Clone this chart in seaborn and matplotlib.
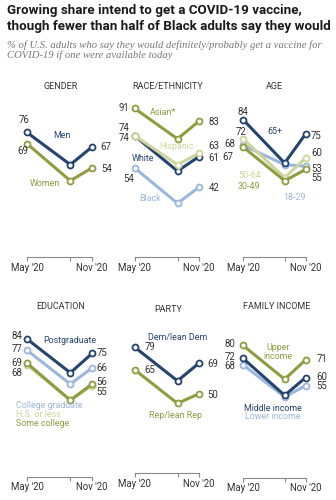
import matplotlib
matplotlib.use("Agg")
import matplotlib.pyplot as plt
from matplotlib import font_manager
import pandas as pd
import seaborn as sns

W, H, DPI = 336, 500, 100

# Survey waves: months after May 2020 (May, Sep, Nov)
months = [0, 4, 6]
tick_labels = ["May '20", "", "Nov '20"]

gender_groups = ["Women", "Men"]
gender_men = [76, 56, 67]
gender_women = [69, 46, 54]

race_groups = ["Black", "White", "Hispanic", "Asian*"]
race_asian = [91, 72, 83]
race_hispanic = [74, 56, 63]
race_white = [74, 52, 61]
race_black = [54, 32, 42]

age_groups = ["18-29", "50-64", "30-49", "65+"]
age_65_plus = [84, 57, 75]
age_50_64 = [72, 48, 60]
age_30_49 = [67, 46, 53]
age_18_29 = [68, 56, 55]

edu_groups = ["H.S. or less", "Some college", "College graduate", "Postgraduate"]
edu_postgrad = [84, 63, 75]
edu_college = [77, 56, 66]
edu_some_college = [69, 46, 56]
edu_hs = [68, 46, 55]

party_groups = ["Rep/lean Rep", "Dem/lean Dem"]
party_dem = [79, 58, 69]
party_rep = [65, 44, 50]

income_groups = ["Lower income", "Middle income", "Upper income"]
income_upper = [80, 59, 71]
income_middle = [72, 49, 60]
income_lower = [68, 48, 55]

NAVY = "#24436f"
OLIVE = "#8f9c40"
LIGHT_BLUE = "#9bb7de"
PALE = "#cdd59d"
TEXT = "#333333"
AXIS = "#8a8a8a"

VALUE_SIZE = 6.9
GROUP_SIZE = 6.4

sns.set_theme(style="white")
plt.rcParams["font.family"] = ["Roboto", "DejaVu Sans"]

installed = {f.name for f in font_manager.fontManager.ttflist}
HEAD_FONT = "Liberation Sans Narrow" if "Liberation Sans Narrow" in installed else "Roboto"

fig = plt.figure(figsize=(W / DPI, H / DPI), dpi=DPI)
fig.patch.set_facecolor("white")


def fx(x):
    return x / W


def fy(y):
    return 1 - y / H


def fit_width(txt, target_px):
    fig.canvas.draw()
    w = txt.get_window_extent(fig.canvas.get_renderer()).width
    txt.set_fontsize(txt.get_fontsize() * target_px / w)


# Headline and subtitle
t1 = fig.text(fx(7), fy(14), "Growing share intend to get a COVID-19 vaccine,",
              family=HEAD_FONT, weight="bold", fontsize=10, color="#1a1a1a", va="baseline")
t2 = fig.text(fx(7), fy(30), "though fewer than half of Black adults say they would",
              family=HEAD_FONT, weight="bold", fontsize=10, color="#1a1a1a", va="baseline")
fit_width(t2, 323)
t1.set_fontsize(t2.get_fontsize())
s1 = fig.text(fx(7), fy(47.5), "% of U.S. adults who say they would definitely/probably get a vaccine for",
              family="Liberation Serif", style="italic", fontsize=7.4, color="#777777", va="baseline")
fit_width(s1, 311)
fig.text(fx(7), fy(58.5), "COVID-19 if one were available today",
         family="Liberation Serif", style="italic", fontsize=s1.get_fontsize(),
         color="#777777", va="baseline")

# Vertical scale shared by every panel: pixels per percentage point
PX_PER_PT = 1.61
ROWS = {"top": (108.3, 91), "bottom": (339.0, 84)}


def make_panel(title, groups, series, colors, x_may, x_nov, row, axis_y,
               title_xy, group_labels, start_off, end_off):
    y_ref, v_ref = ROWS[row]
    top_px = y_ref - 30
    pad = 30
    left, right = x_may - pad, x_nov + pad
    ax = fig.add_axes([fx(left), fy(axis_y), (right - left) / W, (axis_y - top_px) / H])
    ax.patch.set_alpha(0)
    mpp = 6 / (x_nov - x_may)
    ax.set_xlim(-pad * mpp, 6 + pad * mpp)
    ax.set_ylim(v_ref - (axis_y - y_ref) / PX_PER_PT, v_ref + (y_ref - top_px) / PX_PER_PT)

    rows = []
    for g in groups:
        for m, v in zip(months, series[g]):
            rows.append({"month": m, "share": v, "group": g})
    df = pd.DataFrame(rows)
    sns.lineplot(data=df, x="month", y="share", hue="group", hue_order=groups,
                 palette=colors, marker="o", markersize=4.3, linewidth=2.2,
                 markeredgewidth=1.3, legend=False, ax=ax, errorbar=None)
    for line in ax.get_lines():
        line.set_markeredgecolor(line.get_color())
        line.set_markerfacecolor("white")
        line.set_clip_on(False)

    # Value labels at first and last wave
    for g in groups:
        vals = series[g]
        dx, dy, ha = start_off[g]
        ax.annotate(f"{vals[0]}", (months[0], vals[0]), xytext=(dx, -dy),
                    textcoords="offset pixels", ha=ha, va="center",
                    fontsize=VALUE_SIZE, color=TEXT)
        dx, dy, ha = end_off[g]
        ax.annotate(f"{vals[-1]}", (months[-1], vals[-1]), xytext=(dx, -dy),
                    textcoords="offset pixels", ha=ha, va="center",
                    fontsize=VALUE_SIZE, color=TEXT)

    # Group names
    for g, (lab, m, v, ha) in group_labels.items():
        ax.text(m, v, lab, ha=ha, va="center", fontsize=GROUP_SIZE, color=colors[g],
                linespacing=1.05)

    ax.text(title_xy[0], title_xy[1], title, ha="center", va="center",
            fontsize=6.5, color=TEXT)

    for side in ["top", "right", "left"]:
        ax.spines[side].set_visible(False)
    ax.spines["bottom"].set_bounds(0, 6)
    ax.spines["bottom"].set_color(AXIS)
    ax.spines["bottom"].set_linewidth(0.8)
    ax.set_xticks(months)
    ax.set_xticklabels(tick_labels)
    ax.set_yticks([])
    ax.tick_params(axis="x", direction="out", length=2.6, width=0.8, color=AXIS,
                   labelsize=6.9, labelcolor=TEXT, pad=1.5, bottom=True)
    ax.set_xlabel("")
    ax.set_ylabel("")
    return ax


make_panel(
    "GENDER", gender_groups,
    {"Men": gender_men, "Women": gender_women},
    {"Men": NAVY, "Women": OLIVE},
    27, 92, "top", 257.3, (3.1, 104.5),
    {"Men": ("Men", 3.23, 73.8, "center"), "Women": ("Women", 1.66, 44, "center")},
    {"Men": (-3, -12.5, "center"), "Women": (-4, 7, "center")},
    {"Men": (8, 0, "left"), "Women": (9, 1, "left")},
)

make_panel(
    "RACE/ETHNICITY", race_groups,
    {"Asian*": race_asian, "Hispanic": race_hispanic, "White": race_white, "Black": race_black},
    {"Asian*": OLIVE, "Hispanic": PALE, "White": NAVY, "Black": LIGHT_BLUE},
    134.5, 199, "top", 257.3, (3.1, 104.5),
    {"Asian*": ("Asian*", 2.65, 88.7, "center"), "Hispanic": ("Hispanic", 3.95, 67, "center"),
     "White": ("White", 0.79, 60.1, "center"), "Black": ("Black", 1.44, 34.7, "center")},
    {"Asian*": (-5, 0, "right"), "Hispanic": (-5.5, -8, "right"),
     "White": (-5.5, 2, "right"), "Black": (-5.5, 11, "center")},
    {"Asian*": (9.5, 1, "left"), "Hispanic": (9.5, -7.4, "left"),
     "White": (9.5, 1.4, "left"), "Black": (9.5, 1, "left")},
)

make_panel(
    "AGE", age_groups,
    {"65+": age_65_plus, "50-64": age_50_64, "30-49": age_30_49, "18-29": age_18_29},
    {"65+": NAVY, "50-64": PALE, "30-49": OLIVE, "18-29": LIGHT_BLUE},
    243, 305.5, "top", 257.3, (3.0, 104.5),
    {"65+": ("65+", 3.02, 76.9, "center"), "50-64": ("50-64", 0.58, 49, "center"),
     "30-49": ("30-49", 0.58, 42.7, "center"), "18-29": ("18-29", 4.99, 35.3, "center")},
    {"65+": (0, -7.5, "center"), "50-64": (-2, -7, "center"),
     "18-29": (-7.5, -1, "right"), "30-49": (-10, 10, "right")},
    {"65+": (5.5, 2, "left"), "50-64": (5.5, -5, "left"),
     "30-49": (5.5, 0, "left"), "18-29": (5.5, 12, "left")},
)

make_panel(
    "EDUCATION", edu_groups,
    {"Postgraduate": edu_postgrad, "College graduate": edu_college,
     "Some college": edu_some_college, "H.S. or less": edu_hs},
    {"Postgraduate": NAVY, "College graduate": LIGHT_BLUE,
     "Some college": OLIVE, "H.S. or less": PALE},
    27, 92, "bottom", 476.7, (3.1, 104.1),
    {"Postgraduate": ("Postgraduate", 3.97, 83, "center"),
     "College graduate": ("College graduate", -1.02, 42.6, "left"),
     "H.S. or less": ("H.S. or less", -1.02, 37.4, "left"),
     "Some college": ("Some college", -1.02, 31.8, "left")},
    {"Postgraduate": (-5, -3, "right"), "College graduate": (-5, -1, "right"),
     "Some college": (-5, 0, "right"), "H.S. or less": (-5, 8, "right")},
    {"Postgraduate": (4.7, 0, "left"), "College graduate": (4.7, 0, "left"),
     "Some college": (4.7, -2, "left"), "H.S. or less": (4.7, 6.6, "left")},
)

make_panel(
    "PARTY", party_groups,
    {"Dem/lean Dem": party_dem, "Rep/lean Rep": party_rep},
    {"Dem/lean Dem": NAVY, "Rep/lean Rep": OLIVE},
    134.5, 199, "bottom", 473, (3.13, 102.6),
    {"Dem/lean Dem": ("Dem/lean Dem", 4.05, 85.2, "center"),
     "Rep/lean Rep": ("Rep/lean Rep", 3.77, 36.2, "center")},
    {"Dem/lean Dem": (9.8, 0, "left"), "Rep/lean Rep": (9.8, 0, "left")},
    {"Dem/lean Dem": (8.7, 1, "left"), "Rep/lean Rep": (8.7, 1, "left")},
)

make_panel(
    "FAMILY INCOME", income_groups,
    {"Upper income": income_upper, "Middle income": income_middle, "Lower income": income_lower},
    {"Upper income": OLIVE, "Middle income": NAVY, "Lower income": LIGHT_BLUE},
    243, 305.5, "bottom", 477.7, (3.19, 104.1),
    {"Upper income": ("Upper\nincome", 3.36, 76, "center"),
     "Middle income": ("Middle income", 2.88, 41.1, "center"),
     "Lower income": ("Lower income", 2.83, 35.7, "center")},
    {"Upper income": (-8, -1, "right"), "Middle income": (-8, -1.5, "right"),
     "Lower income": (-8, 1, "right")},
    {"Upper income": (11, -0.5, "left"), "Middle income": (11, -0.5, "left"),
     "Lower income": (11, 0.5, "left")},
)

fig.savefig("out.png", dpi=DPI, facecolor="white")
